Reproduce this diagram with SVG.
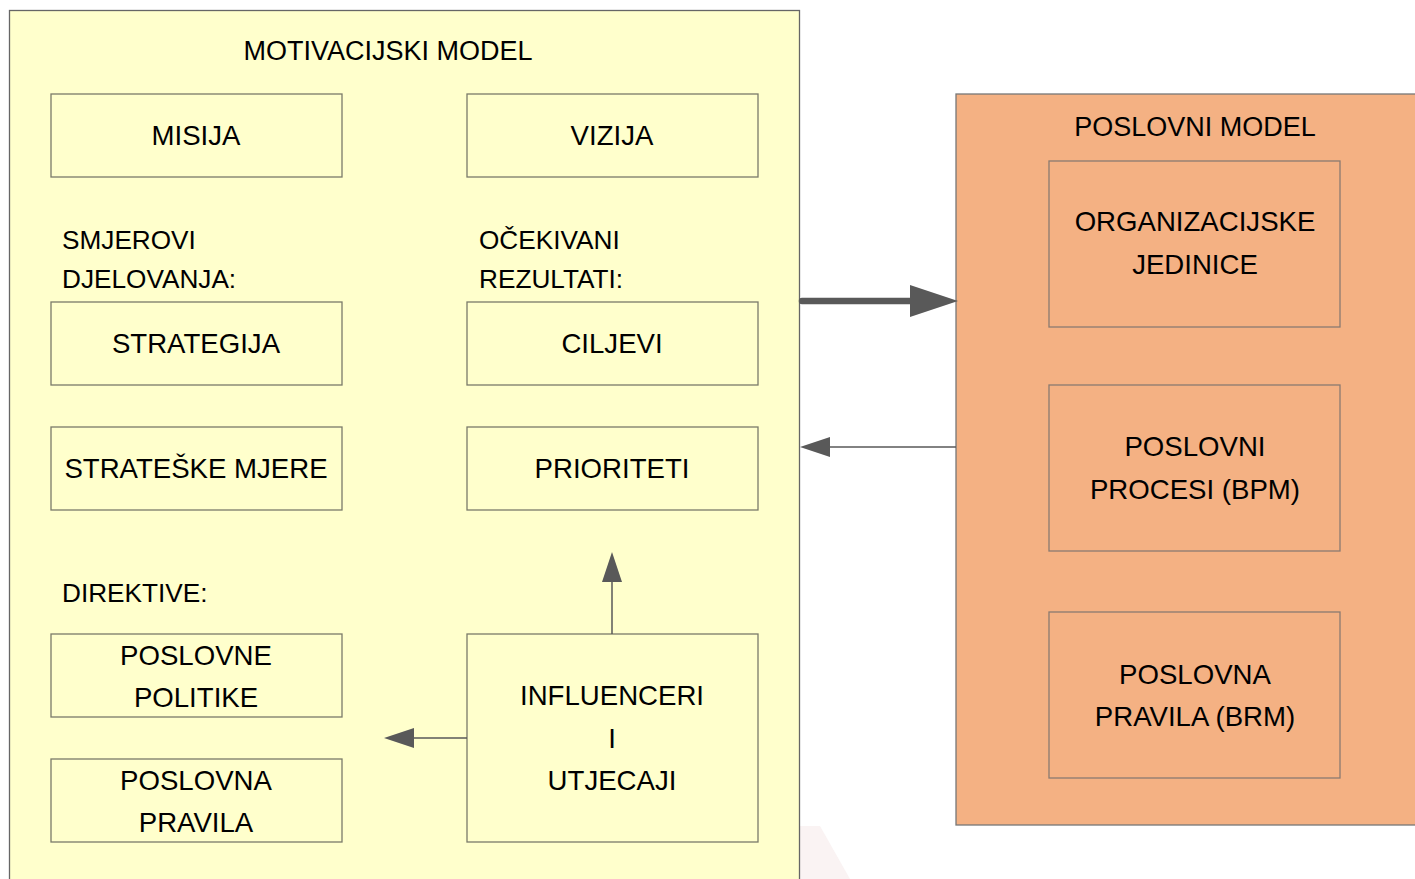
<svg xmlns="http://www.w3.org/2000/svg" width="1415" height="879" viewBox="0 0 1415 879">
<defs>
<style>
.t{font-family:"Liberation Sans",Arial,sans-serif;fill:#000;text-anchor:middle}
.b{font-size:27.6px}
.h{font-size:27px}
.l{font-size:26.2px;text-anchor:start}
.yb{fill:#ffffcc;stroke:#7a7a6a;stroke-width:1.3}
.ob{fill:#f4b183;stroke:#8a7a70;stroke-width:1.3}
.c{stroke:#595959;fill:none}
.ah{fill:#595959}
</style>
</defs>
<rect width="1415" height="879" fill="#fff"/>
<polygon points="800,826 820,826 850,879 800,879" fill="#faf3f3"/>
<g id="motivacijski-model">
<rect x="9.5" y="10.5" width="790" height="880" fill="#ffffcc" stroke="#666" stroke-width="1.3"/>
<text class="t h" x="388" y="60">MOTIVACIJSKI MODEL</text>
<text class="t l" x="62" y="249">SMJEROVI</text>
<text class="t l" x="62" y="288">DJELOVANJA:</text>
<text class="t l" x="479" y="249">OČEKIVANI</text>
<text class="t l" x="479" y="288">REZULTATI:</text>
<text class="t l" x="62" y="602">DIREKTIVE:</text>
</g>
<g id="misija"><rect class="yb" x="51" y="94" width="291" height="83"/><text class="t b" x="196" y="145">MISIJA</text></g>
<g id="vizija"><rect class="yb" x="467" y="94" width="291" height="83"/><text class="t b" x="612" y="145">VIZIJA</text></g>
<g id="strategija"><rect class="yb" x="51" y="302" width="291" height="83"/><text class="t b" x="196" y="353">STRATEGIJA</text></g>
<g id="ciljevi"><rect class="yb" x="467" y="302" width="291" height="83"/><text class="t b" x="612" y="353">CILJEVI</text></g>
<g id="strateske-mjere"><rect class="yb" x="51" y="427" width="291" height="83"/><text class="t b" x="196" y="478">STRATEŠKE MJERE</text></g>
<g id="prioriteti"><rect class="yb" x="467" y="427" width="291" height="83"/><text class="t b" x="612" y="478">PRIORITETI</text></g>
<g id="poslovne-politike"><rect class="yb" x="51" y="634" width="291" height="83"/><text class="t b" x="196" y="665">POSLOVNE</text><text class="t b" x="196" y="707">POLITIKE</text></g>
<g id="poslovna-pravila"><rect class="yb" x="51" y="759" width="291" height="83"/><text class="t b" x="196" y="790">POSLOVNA</text><text class="t b" x="196" y="832">PRAVILA</text></g>
<g id="influenceri"><rect class="yb" x="467" y="634" width="291" height="208"/><text class="t b" x="612" y="705">INFLUENCERI</text><text class="t b" x="612" y="748">I</text><text class="t b" x="612" y="790">UTJECAJI</text></g>
<g id="poslovni-model">
<rect x="956" y="94" width="470" height="731" fill="#f4b183" stroke="#777" stroke-width="1.3"/>
<text class="t h" x="1195" y="136">POSLOVNI MODEL</text>
</g>
<g id="organizacijske-jedinice"><rect class="ob" x="1049" y="161" width="291" height="166"/><text class="t b" x="1195" y="231">ORGANIZACIJSKE</text><text class="t b" x="1195" y="274">JEDINICE</text></g>
<g id="poslovni-procesi"><rect class="ob" x="1049" y="385" width="291" height="166"/><text class="t b" x="1195" y="456">POSLOVNI</text><text class="t b" x="1195" y="499">PROCESI (BPM)</text></g>
<g id="poslovna-pravila-brm"><rect class="ob" x="1049" y="612" width="291" height="166"/><text class="t b" x="1195" y="684">POSLOVNA</text><text class="t b" x="1195" y="726">PRAVILA (BRM)</text></g>
<g id="connectors">
<line class="c" x1="802" y1="301" x2="912" y2="301" stroke-width="6.5" stroke-linecap="round"/>
<polygon class="ah" points="910,285 958,301 910,317"/>
<line class="c" x1="956" y1="447" x2="828" y2="447" stroke-width="1.5"/>
<polygon class="ah" points="800,447 830,437 830,457"/>
<line class="c" x1="612" y1="634" x2="612" y2="580" stroke-width="1.5"/>
<polygon class="ah" points="612,552 602,582 622,582"/>
<line class="c" x1="467" y1="738" x2="412" y2="738" stroke-width="1.5"/>
<polygon class="ah" points="384,738 414,728 414,748"/>
</g>
</svg>
